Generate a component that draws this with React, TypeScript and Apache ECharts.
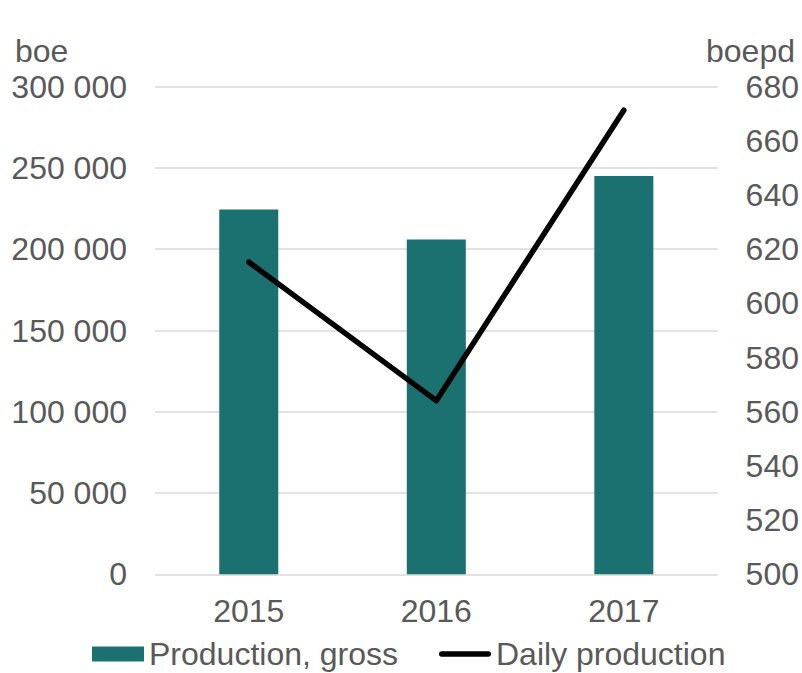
import React, { useEffect, useRef } from "react";
import * as echarts from "echarts";

const categories = ["2015", "2016", "2017"];
const productionGross = [224500, 206000, 245000];
const dailyProduction = [615.3, 564.1, 671.3];
const leftTicks = { min: 0, max: 300000, interval: 50000 };
const rightTicks = { min: 500, max: 680, interval: 20 };

const FONT = "'Liberation Sans', Arial, sans-serif";
const TEXT = "#595959";
const TEAL = "#1B7070";
const FS = 32;

const LINE_ICON =
  "path://M0,0 L0.01,0 L0,0.01 Z M52,15 L51.99,15 L52,14.99 Z " +
  "M2.7,4.8 L49.3,4.8 A2.7,2.7 0 0 1 49.3,10.2 L2.7,10.2 A2.7,2.7 0 0 1 2.7,4.8 Z";

function fmtThousands(v: number): string {
  return String(v).replace(/\B(?=(\d{3})+(?!\d))/g, " ");
}

export default function App() {
  const ref = useRef<HTMLDivElement>(null);
  useEffect(() => {
    if (!ref.current) return;
    const chart = echarts.init(ref.current, undefined, { renderer: "svg" });
    chart.setOption({
      animation: false,
      backgroundColor: "#ffffff",
      textStyle: { fontFamily: FONT },
      grid: { left: 155, right: 84, top: 86.7, bottom: 98.7, containLabel: false },
      legend: {
        left: 92,
        top: 638,
        padding: 0,
        itemWidth: 52,
        itemHeight: 15,
        itemGap: 41,
        textStyle: { fontSize: FS, color: TEXT, fontFamily: FONT },
        data: [
          { name: "Production, gross", icon: "rect" },
          { name: "Daily production", icon: LINE_ICON, itemStyle: { color: "#000000" } },
        ],
      },
      graphic: [
        {
          type: "text",
          x: 15,
          y: 51,
          style: { text: "boe", font: `${FS}px ${FONT}`, fill: TEXT, align: "left", verticalAlign: "middle" },
        },
        {
          type: "text",
          x: 795,
          y: 51,
          style: { text: "boepd", font: `${FS}px ${FONT}`, fill: TEXT, align: "right", verticalAlign: "middle" },
        },
      ],
      xAxis: {
        type: "category",
        data: categories,
        axisLine: { show: false },
        axisTick: { show: false },
        axisLabel: { fontSize: FS, color: TEXT, margin: 21, fontFamily: FONT },
      },
      yAxis: [
        {
          type: "value",
          min: leftTicks.min,
          max: leftTicks.max,
          interval: leftTicks.interval,
          axisLine: { show: false },
          axisTick: { show: false },
          axisLabel: { fontSize: FS, color: TEXT, margin: 28, fontFamily: FONT, formatter: (v: number) => fmtThousands(v) },
          splitLine: { show: true, lineStyle: { color: "#D9D9D9", width: 1.5 } },
        },
        {
          type: "value",
          min: rightTicks.min,
          max: rightTicks.max,
          interval: rightTicks.interval,
          axisLine: { show: false },
          axisTick: { show: false },
          axisLabel: { fontSize: FS, color: TEXT, margin: 28, fontFamily: FONT },
          splitLine: { show: false },
        },
      ],
      series: [
        {
          name: "Production, gross",
          type: "bar",
          data: productionGross,
          barWidth: 59,
          itemStyle: { color: TEAL },
          yAxisIndex: 0,
        },
        {
          name: "Daily production",
          type: "line",
          data: dailyProduction,
          yAxisIndex: 1,
          symbol: "none",
          lineStyle: { color: "#000000", width: 5.5, cap: "round", join: "round" },
          itemStyle: { color: "#000000" },
        },
      ],
    });
    return () => chart.dispose();
  }, []);
  return (
    <div
      ref={ref}
      style={{ position: "fixed", left: 0, top: 0, width: 802, height: 673, background: "#fff" }}
    />
  );
}
